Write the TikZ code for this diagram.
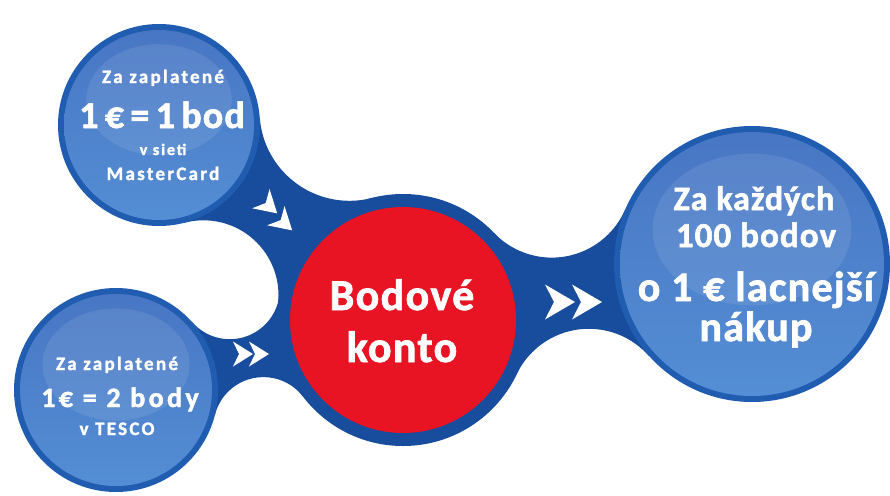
\documentclass[tikz,border=0pt]{standalone}
\usepackage{fontspec}
\setmainfont{Carlito}[BoldFeatures={FakeBold=1.6}]
\newfontfamily\spacedfont{Carlito}[LetterSpace=12, BoldFeatures={FakeBold=1.6}]
\newfontfamily\widefont{Carlito}[LetterSpace=3, BoldFeatures={FakeBold=1.6}]

\definecolor{bandblue}{RGB}{24,76,156}
\definecolor{ringblue}{RGB}{32,92,176}
\definecolor{balltop}{RGB}{72,118,196}
\definecolor{ballmid}{RGB}{44,110,194}
\definecolor{ballbot}{RGB}{84,142,212}
\definecolor{kontored}{RGB}{232,20,36}

% neck between two balls: ball a, ball b, cut-out c1 (radius), cut-out c2 (radius)
\newcommand{\bandneck}[6]{%
  \begin{scope}
    \clip (#1) -- (#3) -- (#2) -- (#5) -- cycle;
    \fill[band, even odd rule] (0,0) rectangle (890,495)
      (#3) circle (#4pt) (#5) circle (#6pt);
  \end{scope}}

\begin{document}
\begin{tikzpicture}[
    x=1pt, y=-1pt,
    band/.style={fill=bandblue},
    ring/.style={fill=ringblue},
    ball/.style={top color=balltop, middle color=ballmid, bottom color=ballbot},
    gloss/.style={fill=white, fill opacity=.09},
    chevron/.style={fill=white},
    small/.style={text=white, inner sep=0pt, anchor=base, font=\spacedfont\bfseries\fontsize{#1}{#1}\selectfont},
    big/.style={text=white, inner sep=0pt, anchor=base, font=\widefont\bfseries\fontsize{#1}{#1}\selectfont}
]
    \useasboundingbox (0,0) rectangle (890,495);

    % centres of the balls
    \coordinate (mc)    at (159,125);
    \coordinate (tesco) at (116,390);
    \coordinate (konto) at (403,320);
    \coordinate (zlava) at (752,264);

    % cut-outs that shape the necks
    \coordinate (cutA) at (349.5,110.8);
    \coordinate (cutB) at (203.5,295.3);
    \coordinate (cutC) at (229.8,289.2);
    \coordinate (cutD) at (263.4,427.1);
    \coordinate (cutE) at (551.8,177.6);
    \coordinate (cutF) at (588.8,408.8);

    % dark blue necks
    \bandneck{mc}{konto}{cutA}{90}{cutB}{75}
    \bandneck{tesco}{konto}{cutC}{50}{cutD}{50}
    \bandneck{konto}{zlava}{cutE}{80}{cutF}{80}

    % balls
    \fill[band] (konto) circle (126pt);
    \fill[kontored] (konto) circle (113pt);
    \foreach \c/\r in {mc/101, tesco/102, zlava/138} {
        \fill[ring] (\c) circle (\r pt);
        \shade[ball] (\c) circle (\r pt - 6pt);
        \fill[gloss] ([yshift=.25*\r pt]\c) ellipse (.72*\r pt and .55*\r pt);
    }

    % double chevrons
    \foreach \cx/\cy/\ang/\w/\h in {243/354/0/20/25, 259/354/0/20/25,
                                   560/302/0/30/35, 587/302/0/30/35,
                                   269/206/-42/22/26, 284/223/-42/22/26} {
        \fill[chevron, shift={(\cx,\cy)}, rotate=\ang, xscale=\w, yscale=\h]
            (-.5,-.5) -- (.5,0) -- (-.5,.5) -- (-.2,0) -- cycle;
    }

    % texts
    \node[small=19]   (mcA) at (163,83)  {Za zaplatené};
    \node[big=38]     (mcB) at (162,128) {1\,€\,=\,1\,bod};
    \node[small=16]   (mcC) at (163,155) {v sieti};
    \node[small=19]   (mcD) at (163,180) {MasterCard};

    \node[small=19]   (tescoA) at (117,370) {Za zaplatené};
    \node[small=28]   (tescoB) at (120,407) {1€ = 2 body};
    \node[small=19]   (tescoC) at (117,435) {v TESCO};

    \node[big=44]     (kontoA) at (402,310) {Bodové};
    \node[big=44]     (kontoB) at (402,362) {konto};

    \node[big=34]     (zlavaA) at (754,210) {Za každých};
    \node[big=35]     (zlavaB) at (756,247) {100 bodov};
    \node[big=42, align=center, font=\widefont\bfseries\fontsize{42}{40}\selectfont]
                      (zlavaC) at (756,341) {o 1 € lacnejší\\nákup};
\end{tikzpicture}
\end{document}
